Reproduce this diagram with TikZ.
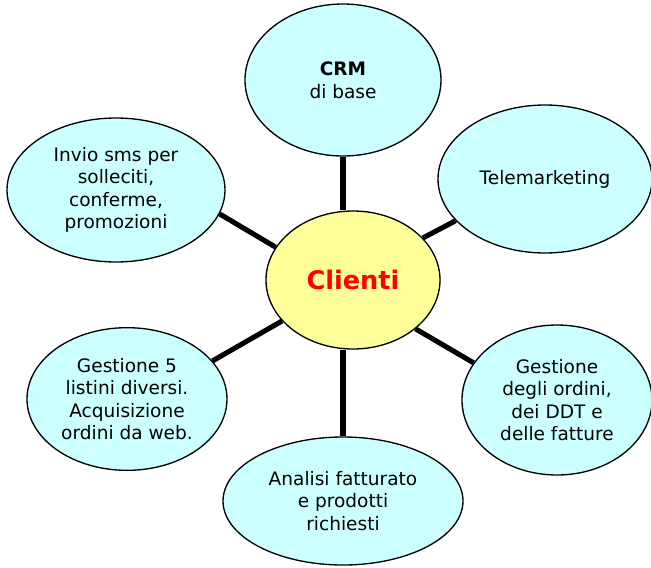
\documentclass[tikz,border=0pt]{standalone}
\usepackage{fontspec}
\setmainfont{DejaVu Sans}
\usetikzlibrary{shapes}
\definecolor{lightcyan}{HTML}{CCFFFF}
\definecolor{lightyellow}{HTML}{FFFF99}
\tikzset{
        bubble/.style={ellipse, draw=black, line width=1pt, align=center, inner sep=0pt,
                font=\fontsize{13.9}{16.9}\selectfont},
        % Outer topics
        node_topic/.style={bubble, fill=lightcyan},
        % Central topic
        node_center/.style={bubble, fill=lightyellow, text=red,
                font=\fontsize{19.2}{22}\selectfont\bfseries},
        % Spokes
        spoke/.style={line width=3.8pt, black}
}
\begin{document}
\begin{tikzpicture}[x=0.75pt, y=-0.75pt]
            \useasboundingbox (0,0) rectangle (651,568);
            \node[node_center, minimum width=130.5pt, minimum height=103.5pt] (cli) at (353,280) {Clienti};
            \node[node_topic, minimum width=147pt, minimum height=114pt] (crm) at (343,80) {\textbf{CRM}\\di base};
            \node[node_topic, minimum width=160.5pt, minimum height=111pt] (tele) at (545,179) {Telemarketing};
            \node[node_topic, minimum width=163.5pt, minimum height=108pt] (sms) at (116,190) {Invio sms per\\solleciti,\\conferme,\\promozioni};
            \node[node_topic, minimum width=150pt, minimum height=107pt] (list) at (127,399) {Gestione 5\\listini diversi.\\Acquisizione\\ordini da web.};
            \node[node_topic, minimum width=180pt, minimum height=96pt] (anal) at (343,501) {Analisi fatturato\\e prodotti\\richiesti};
            \node[node_topic, minimum width=142.5pt, minimum height=112.5pt] (ord) at (557,400) {Gestione\\degli ordini,\\dei DDT e\\delle fatture};
            \draw[spoke] (cli.north -| crm.south) -- (crm.south);
            \draw[spoke] (cli.31) -- (tele.205);
            \draw[spoke] (cli.157) -- (sms.-13);
            \draw[spoke] (cli.210) -- (list.24);
            \draw[spoke] (cli.south -| anal.north) -- (anal.north);
            \draw[spoke] (cli.-38) -- (ord.156);
        \end{tikzpicture}
\end{document}
